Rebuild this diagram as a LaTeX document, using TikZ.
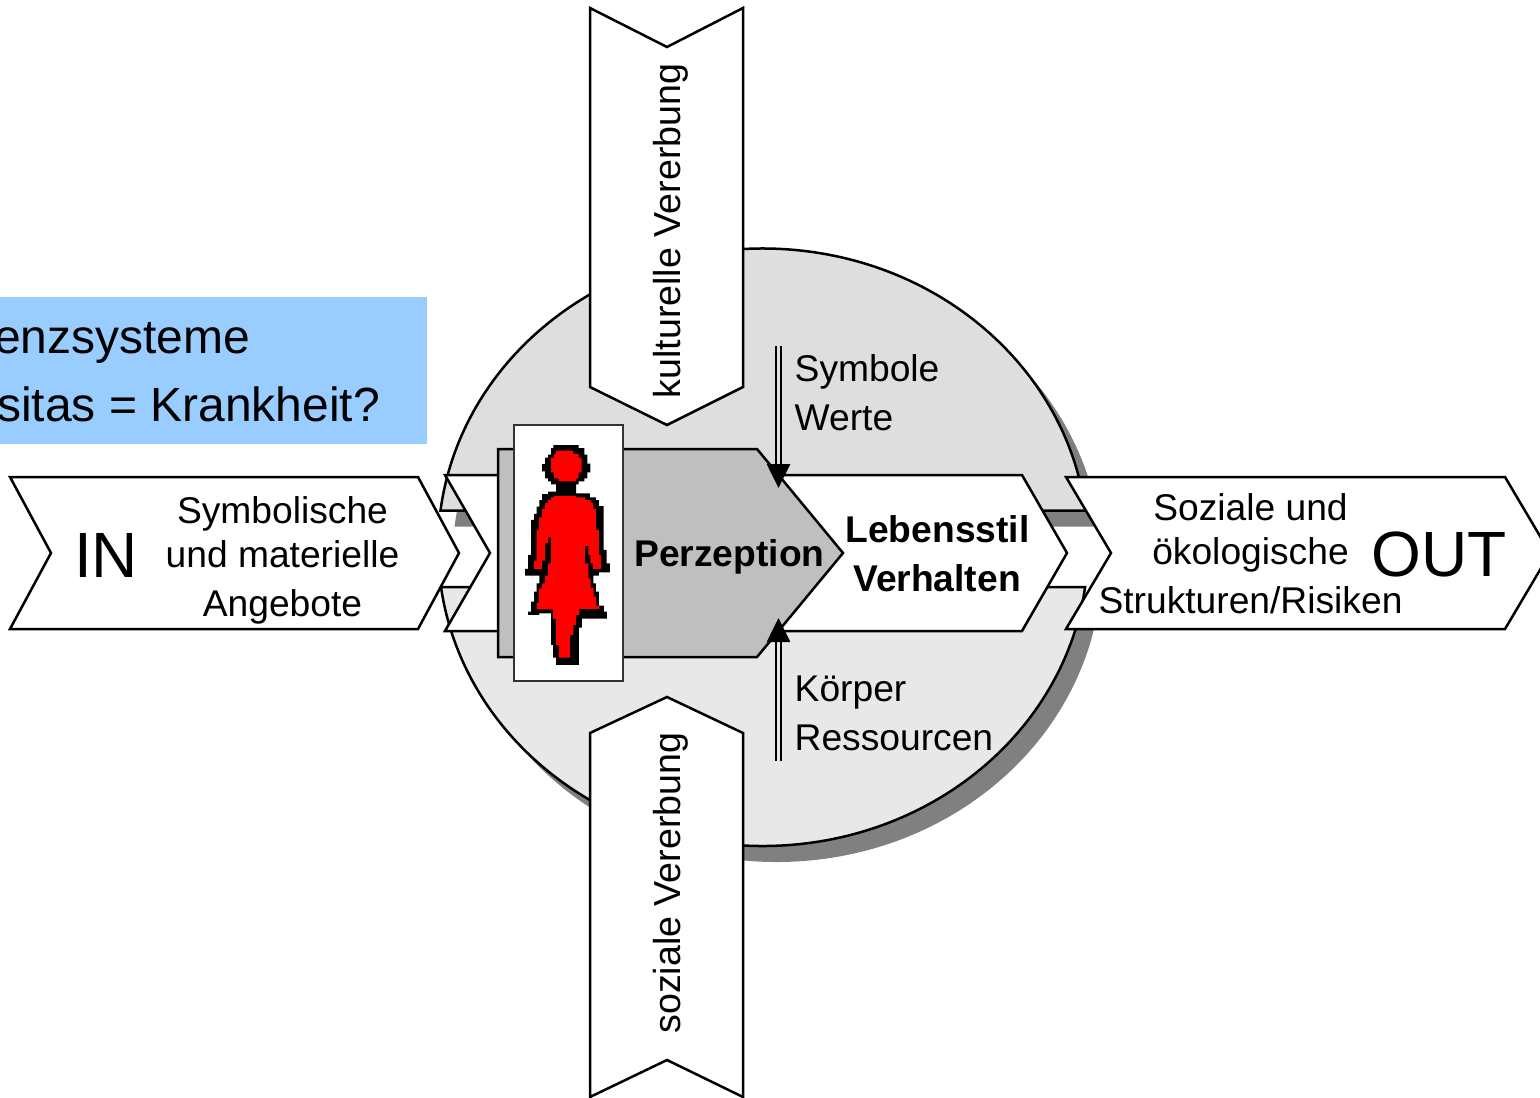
\documentclass[tikz,border=0pt]{standalone}
\usepackage{fontspec}
\setmainfont{Liberation Sans}
\usetikzlibrary{arrows.meta}
\tikzset{
    outline/.style={draw=black,line width=2.5pt,line join=miter,fill=white},
    lab/.style={font=\fontsize{37.2}{37.2}\selectfont,inner sep=0pt,anchor=base},
    turned/.style={lab,rotate=90,font=\fontsize{37.6}{37.6}\selectfont},
    bold/.style={lab,font=\fontsize{37.2}{37.2}\selectfont\bfseries},
    big/.style={lab,font=\fontsize{64}{64}\selectfont},
    blue/.style={lab,anchor=base west,font=\fontsize{48}{48}\selectfont},
    inflow/.style={draw=black,line width=2.7pt,double=black!13,double distance=2.4pt,-{Triangle[length=24pt,width=23pt]}}
}
\begin{document}
\begin{tikzpicture}[x=1pt,y=-1pt]
    \useasboundingbox (0,0) rectangle (1540,1098);
    \clip (0,0) rectangle (1540,1098);
    % circle, split in two, with its shadow
    \fill[black!50,shift={(14,16)}] (440.5,510.5) arc[start angle=187.11,end angle=352.89,x radius=325,y radius=299] -- cycle;
    \fill[black!50,shift={(14,16)}] (441,587) arc[start angle=172.31,end angle=7.69,x radius=325,y radius=299] -- cycle;
    \draw[outline,fill=black!13] (440.5,510.5) arc[start angle=187.11,end angle=352.89,x radius=325,y radius=299] -- cycle;
    \draw[outline,fill=black!9] (441,587) arc[start angle=172.31,end angle=7.69,x radius=325,y radius=299] -- cycle;
    % reference box
    \fill[fill={rgb,255:red,153;green,204;blue,255}] (0,297) rectangle (427,444);
    \node[blue] (refa) at (-6,353) {enzsysteme};
    \node[blue] (refb) at (-3,421) {sitas = Krankheit?};
    % horizontal arrows
    \draw[outline] (445,475) -- (1022,475) -- (1067,553) -- (1022,631) -- (445,631) -- (490,553) -- cycle;
    \draw[outline] (10,477) -- (418,477) -- (459,553) -- (418,629) -- (10,629) -- (51,553) -- cycle;
    \draw[outline] (1066,477) -- (1505,477) -- (1550,553) -- (1505,629) -- (1066,629) -- (1111,553) -- cycle;
    % perception block
    \draw[outline,fill=black!25] (498,449) -- (757,449) -- (843,553) -- (757,657) -- (498,657) -- cycle;
    % vertical arrows
    \draw[outline] (590,8) -- (667,47) -- (743,8) -- (743,387) -- (667,425) -- (590,387) -- cycle;
    \draw[outline] (590,733) -- (667,697) -- (743,733) -- (743,1097) -- (667,1060) -- (590,1097) -- cycle;
    % the figure
    \draw[fill=white,draw=black!80,line width=1.2pt] (514,425) rectangle (623,681);
    \begin{scope}[shift={(520,440)},x=0.3333pt,y=-0.3333pt]
        \fill[black] (100,15) -| (176,24) -| (193,44) -| (202,71) -| (211,97) -| (202,115) -| (193,124) -| (176,133)
            -| (168,160) -| (210,172) -| (228,180) -| (237,198) -| (251,330) -| (260,370) -| (270,397) -| (237,407)
            -| (220,430) -| (228,455) -| (237,497) -| (252,515) -| (261,536) -| (186,563) -| (177,675) -| (108,653)
            -| (99,615) -| (93,520) -| (57,525) -| (24,515) -| (33,485) -| (42,455) -| (50,430) -| (58,407)
            -| (15,387) -| (24,345) -| (33,240) -| (42,222) -| (50,200) -| (58,180) -| (66,162) -| (84,155)
            -| (108,133) -| (93,124) -| (84,115) -| (75,94) -| (66,72) -| (75,53) -| (84,44) -| (93,24) -| cycle;
        \fill[red] (108,32) -| (160,42) -| (176,53) -| (185,97) -| (176,115) -| (168,124) -| (116,115) -| (102,97)
            -| (93,53) -| (102,42) -| cycle;
        \fill[red] (102,168) -| (168,172) -| (195,180) -| (212,189) -| (220,207) -| (228,270) -| (237,345)
            -| (243,387) -| (219,370) -| (211,345) -| (205,318) -| (195,370) -| (205,415) -| (212,443) -| (221,470)
            -| (228,497) -| (238,507) -| (178,525) -| (168,555) -| (160,585) -| (150,653) -| (117,615) -| (108,537)
            -| (99,508) -| (50,488) -| (57,445) -| (66,430) -| (75,407) -| (84,370) -| (93,292) -| (84,310) -| (75,362)
            -| (66,387) -| (42,362) -| (50,270) -| (57,232) -| (66,207) -| (75,189) -| (84,180) -| (93,172) -| cycle;
    \end{scope}
    % inner arrows
    \coordinate (symstart) at (778.5,346);
    \coordinate (symend) at (778.5,488);
    \coordinate (korstart) at (778.5,761);
    \coordinate (korend) at (778.5,618);
    \draw[inflow] (symstart) -- (symend);
    \draw[inflow,double=black!9] (korstart) -- (korend);
    % labels
    \node[big] (in) at (106,577) {IN};
    \node[lab] (ina) at (282.5,523) {Symbolische};
    \node[lab] (inb) at (282.5,567) {und materielle};
    \node[lab] (inc) at (282.5,616) {Angebote};
    \node[big] (out) at (1439,576) {OUT};
    \node[lab] (outa) at (1250.5,520) {Soziale und};
    \node[lab] (outb) at (1250.5,564) {ökologische};
    \node[lab] (outc) at (1250.5,613) {Strukturen/Risiken};
    \node[bold] (perz) at (729.5,566) {Perzeption};
    \node[bold] (leb) at (937.5,542) {Lebensstil};
    \node[bold] (verh) at (937,591) {Verhalten};
    \node[lab,anchor=base west] (sym) at (794.5,381) {Symbole};
    \node[lab,anchor=base west] (wer) at (794.5,430) {Werte};
    \node[lab,anchor=base west] (kor) at (794.5,701) {Körper};
    \node[lab,anchor=base west] (res) at (794.5,750) {Ressourcen};
    \node[turned] (kult) at (680,231) {kulturelle Vererbung};
    \node[turned] (soz) at (680,883) {soziale Vererbung};
\end{tikzpicture}
\end{document}
